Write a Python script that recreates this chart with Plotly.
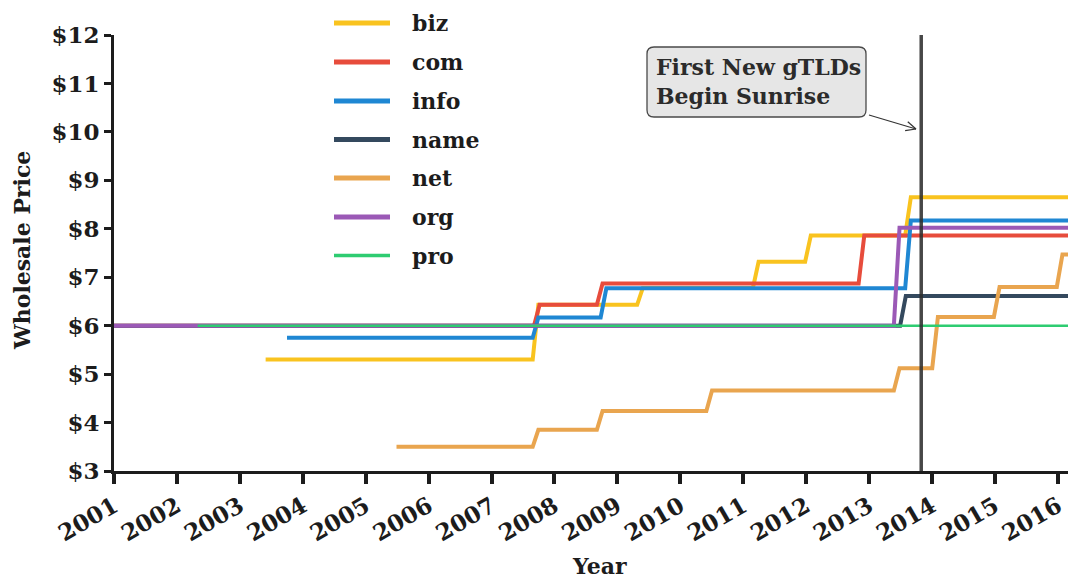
import plotly.graph_objects as go
import math

# ---------------- data ----------------
tick_years = list(range(2001, 2017))
tick_year_labels = [str(y) for y in tick_years]
price_ticks = list(range(3, 13))
price_tick_labels = ["$" + str(p) for p in price_ticks]

# first year shown, years of each price change, and the price levels
biz_years = [2003.41, 2007.70, 2009.36, 2011.20, 2012.03, 2013.62]
biz_prices = [5.30, 6.43, 6.78, 7.32, 7.86, 8.65]

com_years = [2001.0, 2007.72, 2008.72, 2012.88]
com_prices = [6.00, 6.43, 6.87, 7.86]

info_years = [2003.75, 2007.70, 2008.78, 2013.62]
info_prices = [5.75, 6.17, 6.77, 8.17]

name_years = [2001.0, 2013.54]
name_prices = [6.00, 6.61]

net_years = [2005.49, 2007.70, 2008.72, 2010.46, 2013.44, 2014.05, 2015.03, 2016.03]
net_prices = [3.50, 3.85, 4.24, 4.66, 5.12, 6.18, 6.80, 7.47]

org_years = [2001.0, 2013.44]
org_prices = [6.00, 8.02]

pro_years = [2002.33]
pro_prices = [6.00]

last_year = 2016.5
sunrise_year = 2013.83
annotation_text = "First New gTLDs<br>Begin Sunrise"

series_names = ["biz", "com", "info", "name", "net", "org", "pro"]
series_years = [biz_years, com_years, info_years, name_years, net_years, org_years, pro_years]
series_prices = [biz_prices, com_prices, info_prices, name_prices, net_prices, org_prices, pro_prices]
series_colors = ["#F9C31F", "#E74C3C", "#1F87D3", "#34495E", "#E9A54F", "#9B59B6", "#2ECC71"]
series_widths = [4, 4, 4, 4, 4, 4, 2.5]
RISE = 0.09  # drawn width of each price-change riser (style)

# ---------------- layout geometry ----------------
OFF = 8  # page body margin
W, H = 1076 - OFF, 579 - OFF
ML, MR, MT, MB = 114 - OFF, 0, 35 - OFF, 108
PW = W - ML - MR
PH = H - MT - MB
FONT = "DejaVu Serif"
DARK = "#1c1c1c"


def px(xs):  # screen pixel -> paper
    return (xs - OFF - ML) / PW


def py(ys):
    return (H - MB - (ys - OFF)) / PH


def step_vertices(years, prices):
    xs, ys = [years[0]], [prices[0]]
    for i in range(1, len(years)):
        xs += [years[i] - RISE / 2, years[i] + RISE / 2]
        ys += [prices[i - 1], prices[i]]
    xs.append(last_year)
    ys.append(prices[-1])
    return xs, ys


fig = go.Figure()
for n, yrs, prs, c, w in zip(series_names, series_years, series_prices, series_colors, series_widths):
    xs, ys = step_vertices(yrs, prs)
    fig.add_trace(go.Scatter(
        x=xs, y=ys, name=n, mode="lines", line=dict(color=c, width=w),
        showlegend=False, hoverinfo="name+y"))

shapes = []
annotations = []

# vertical marker line
shapes.append(dict(type="line", xref="x", yref="y", x0=sunrise_year, x1=sunrise_year,
                   y0=3, y1=12, line=dict(color="rgba(45,45,45,0.88)", width=3.5), layer="above"))

# manual legend
leg_y = [23, 62, 101, 139.5, 178, 217, 255.5]
for n, c, w, yy in zip(series_names, series_colors, series_widths, leg_y):
    shapes.append(dict(type="line", xref="paper", yref="paper", x0=px(334), x1=px(390),
                       y0=py(yy), y1=py(yy), line=dict(color=c, width=w + 1)))
    annotations.append(dict(xref="paper", yref="paper", x=px(410), y=py(yy), text=n,
                            showarrow=False, xanchor="left", yanchor="middle",
                            font=dict(family=FONT, size=22, color=DARK, weight="bold")))

# annotation box (rounded)
L, R, T, B, r = 647, 866, 47, 117, 7


def P(a, b):
    return f"{px(a)},{py(b)}"


path = (f"M {P(L + r, T)} L {P(R - r, T)} Q {P(R, T)} {P(R, T + r)} L {P(R, B - r)} "
        f"Q {P(R, B)} {P(R - r, B)} L {P(L + r, B)} Q {P(L, B)} {P(L, B - r)} "
        f"L {P(L, T + r)} Q {P(L, T)} {P(L + r, T)} Z")
shapes.append(dict(type="path", xref="paper", yref="paper", path=path,
                   fillcolor="#E6E6E6", line=dict(color="#4a4a4a", width=1.3), layer="above"))
annotations.append(dict(xref="paper", yref="paper", x=px(654), y=py(82), text=annotation_text,
                        showarrow=False, xanchor="left", yanchor="middle", align="left",
                        font=dict(family=FONT, size=22, color="#2b2b2b", weight="bold")))

# arrow from box to line
ax0, ay0, ax1, ay1 = 869, 115, 916, 129
shapes.append(dict(type="line", xref="paper", yref="paper", x0=px(ax0), y0=py(ay0),
                   x1=px(ax1), y1=py(ay1), line=dict(color="#333333", width=1.2), layer="above"))
dx, dy = ax1 - ax0, ay1 - ay0
ln = math.hypot(dx, dy)
ux, uy = dx / ln, dy / ln
for s in (1, -1):
    ang = math.radians(25) * s
    bx = ux * math.cos(ang) - uy * math.sin(ang)
    by = ux * math.sin(ang) + uy * math.cos(ang)
    shapes.append(dict(type="line", xref="paper", yref="paper", x0=px(ax1), y0=py(ay1),
                       x1=px(ax1 - 11 * bx), y1=py(ay1 - 11 * by),
                       line=dict(color="#333333", width=1.2), layer="above"))

# axis titles
annotations.append(dict(xref="paper", yref="paper", x=px(22), y=py(251), text="Wholesale Price",
                        textangle=-90, showarrow=False, xanchor="center", yanchor="middle",
                        font=dict(family=FONT, size=22, color=DARK, weight="bold")))
annotations.append(dict(xref="paper", yref="paper", x=px(599), y=py(566), text="Year",
                        showarrow=False, xanchor="center", yanchor="middle",
                        font=dict(family=FONT, size=22, color=DARK, weight="bold")))

fig.update_layout(
    width=W, height=H, margin=dict(l=ML, r=MR, t=MT, b=MB),
    plot_bgcolor="white", paper_bgcolor="white",
    shapes=shapes, annotations=annotations, showlegend=False,
    font=dict(family=FONT, color=DARK),
)
fig.update_xaxes(range=[2001, 2016.29], tickvals=tick_years, ticktext=tick_year_labels,
                 tickangle=-30, showgrid=False, zeroline=False, showline=True,
                 linecolor=DARK, linewidth=3, ticks="outside", ticklen=10, tickwidth=3.5,
                 tickcolor=DARK, tickfont=dict(family=FONT, size=23, color=DARK, weight="bold"))
fig.update_yaxes(range=[3, 12], tickvals=price_ticks, ticktext=price_tick_labels,
                 showgrid=False, zeroline=False, showline=True, linecolor=DARK, linewidth=3,
                 ticks="outside", ticklen=7, tickwidth=2.5, tickcolor=DARK,
                 tickfont=dict(family=FONT, size=23, color=DARK, weight="bold"))

fig.write_html("out.html")
